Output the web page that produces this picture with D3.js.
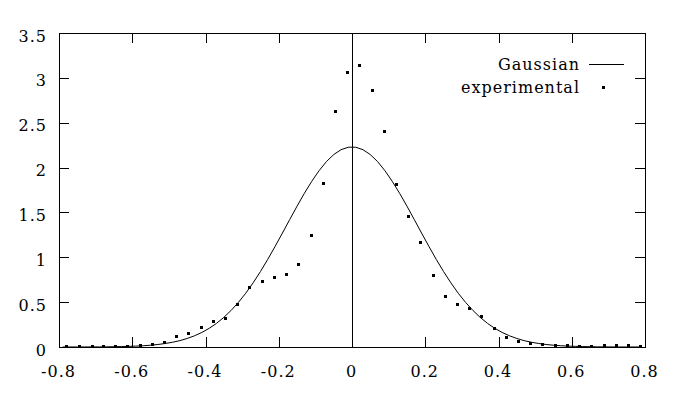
<!DOCTYPE html>
<html>
<head>
<meta charset="utf-8">
<script src="https://cdn.jsdelivr.net/npm/d3@7"></script>
<style>
  html, body { margin: 0; padding: 0; background: #fff; }
  svg { display: block; }
</style>
</head>
<body>
<div id="chart"></div>
<script>
// tick labels
const xTicks = [-0.8, -0.6, -0.4, -0.2, 0, 0.2, 0.4, 0.6, 0.8];
const yTicks = [0, 0.5, 1, 1.5, 2, 2.5, 3, 3.5];

// Gaussian curve (right half, mirrored for the left)
const gaussX = [0.01, 0.03, 0.05, 0.07, 0.09, 0.11, 0.13, 0.15, 0.17, 0.19,
  0.21, 0.23, 0.25, 0.27, 0.29, 0.31, 0.33, 0.35, 0.37, 0.39,
  0.41, 0.43, 0.45, 0.47, 0.49, 0.51, 0.53, 0.55, 0.57, 0.59,
  0.61, 0.63, 0.65, 0.67, 0.69, 0.71, 0.73, 0.75, 0.77, 0.79];
const gaussY = [2.227, 2.199, 2.145, 2.066, 1.965, 1.846, 1.713, 1.570, 1.421, 1.270,
  1.121, 0.977, 0.841, 0.715, 0.600, 0.498, 0.408, 0.330, 0.263, 0.208,
  0.162, 0.125, 0.095, 0.071, 0.053, 0.039, 0.028, 0.020, 0.014, 0.010,
  0.007, 0.005, 0.003, 0.002, 0.001, 0.001, 0.0005, 0.0003, 0.0002, 0.0001];

// experimental points
const expX = [-0.780, -0.745, -0.711, -0.679, -0.646, -0.613, -0.578, -0.546, -0.513, -0.481,
  -0.447, -0.412, -0.380, -0.347, -0.314, -0.280, -0.246, -0.213, -0.180, -0.147,
  -0.112, -0.079, -0.046, -0.014, 0.019, 0.055, 0.087, 0.120, 0.153, 0.186,
  0.221, 0.254, 0.287, 0.319, 0.352, 0.388, 0.420, 0.453, 0.486, 0.519,
  0.554, 0.587, 0.620, 0.652, 0.688, 0.721, 0.754, 0.786];
const expY = [0.01, 0.01, 0.01, 0.01, 0.01, 0.01, 0.02, 0.03, 0.06, 0.12,
  0.16, 0.22, 0.29, 0.32, 0.48, 0.67, 0.74, 0.78, 0.81, 0.92,
  1.245, 1.825, 2.63, 3.07, 3.14, 2.87, 2.41, 1.814, 1.46, 1.167,
  0.80, 0.565, 0.476, 0.44, 0.34, 0.21, 0.11, 0.067, 0.04, 0.03,
  0.02, 0.02, 0.01, 0.01, 0.02, 0.02, 0.02, 0.01];

const W = 677, H = 398;
const margin = { top: 33, right: 32, bottom: 51, left: 59 };
const width = W - margin.left - margin.right;
const height = H - margin.top - margin.bottom;
const font = '"DejaVu Serif", "Liberation Serif", serif';

const svg = d3.select('#chart').append('svg')
  .attr('width', W)
  .attr('height', H);

const g = svg.append('g').attr('transform', `translate(${margin.left},${margin.top})`);

const x = d3.scaleLinear().domain([-0.8, 0.8]).range([0, width]);
const y = d3.scaleLinear().domain([0, 3.5]).range([height, 0]);

// build the full curve from both halves
const gauss = gaussX.slice().reverse().map((v, i) => ({ x: -v, y: gaussY[gaussY.length - 1 - i] }))
  .concat(gaussX.map((v, i) => ({ x: v, y: gaussY[i] })));
const pts = expX.map((v, i) => ({ x: v, y: expY[i] }));

const tickLen = 10;
const fmt = d => String(d);   // plain hyphen minus like the original

// inward ticks, mirrored on all sides
const xAxisB = d3.axisBottom(x).tickValues(xTicks).tickSize(-tickLen).tickFormat(fmt);
const xAxisT = d3.axisTop(x).tickValues(xTicks).tickSize(-tickLen).tickFormat('');
const yAxisL = d3.axisLeft(y).tickValues(yTicks).tickSize(-tickLen).tickFormat(fmt);
const yAxisR = d3.axisRight(y).tickValues(yTicks).tickSize(-tickLen).tickFormat('');

function styleAxis(sel) {
  sel.attr('font-family', font).attr('font-size', 16);
  sel.select('.domain').remove();
  sel.selectAll('line').attr('stroke', '#000').attr('shape-rendering', 'crispEdges');
  sel.selectAll('text').attr('fill', '#000').attr('letter-spacing', 1);
}

g.append('g').attr('transform', `translate(0,${height})`).call(xAxisB).call(styleAxis)
  .selectAll('text').attr('y', 30).attr('dy', 0).attr('dx', -1);
g.append('g').call(xAxisT).call(styleAxis);
g.append('g').call(yAxisL).call(styleAxis)
  .selectAll('text').attr('x', -12).attr('dy', 0).attr('y', 8);
g.append('g').attr('transform', `translate(${width},0)`).call(yAxisR).call(styleAxis);

// border
g.append('rect')
  .attr('x', 0.5).attr('y', 0.5)
  .attr('width', width).attr('height', height)
  .attr('fill', 'none').attr('stroke', '#000')
  .attr('shape-rendering', 'crispEdges');

// zero axis
g.append('line')
  .attr('x1', Math.round(x(0)) + 0.5).attr('x2', Math.round(x(0)) + 0.5)
  .attr('y1', 0).attr('y2', height)
  .attr('stroke', '#000').attr('shape-rendering', 'crispEdges');

// gaussian line
const line = d3.line().x(d => x(d.x)).y(d => y(d.y));
g.append('path')
  .datum(gauss)
  .attr('d', line)
  .attr('fill', 'none')
  .attr('stroke', '#000')
  .attr('stroke-width', 1);

// experimental dots
g.selectAll('.dot')
  .data(pts)
  .enter().append('rect')
  .attr('class', 'dot')
  .attr('x', d => Math.round(x(d.x)) - 1)
  .attr('y', d => Math.round(y(d.y)) - 1)
  .attr('width', 3).attr('height', 3)
  .attr('fill', '#000');

// legend
const legend = g.append('g')
  .attr('font-family', font).attr('font-size', 16)
  .attr('transform', `translate(${580 - margin.left},0)`);
legend.append('text').attr('x', 0).attr('y', 70 - margin.top)
  .attr('text-anchor', 'end').attr('letter-spacing', 1).text('Gaussian');
legend.append('line')
  .attr('x1', 9).attr('x2', 44)
  .attr('y1', 64.5 - margin.top).attr('y2', 64.5 - margin.top)
  .attr('stroke', '#000').attr('shape-rendering', 'crispEdges');
legend.append('text').attr('x', 0).attr('y', 93 - margin.top)
  .attr('text-anchor', 'end').attr('letter-spacing', 1).text('experimental');
legend.append('rect')
  .attr('x', 22).attr('y', 86 - margin.top)
  .attr('width', 3).attr('height', 3)
  .attr('fill', '#000');
</script>
</body>
</html>
